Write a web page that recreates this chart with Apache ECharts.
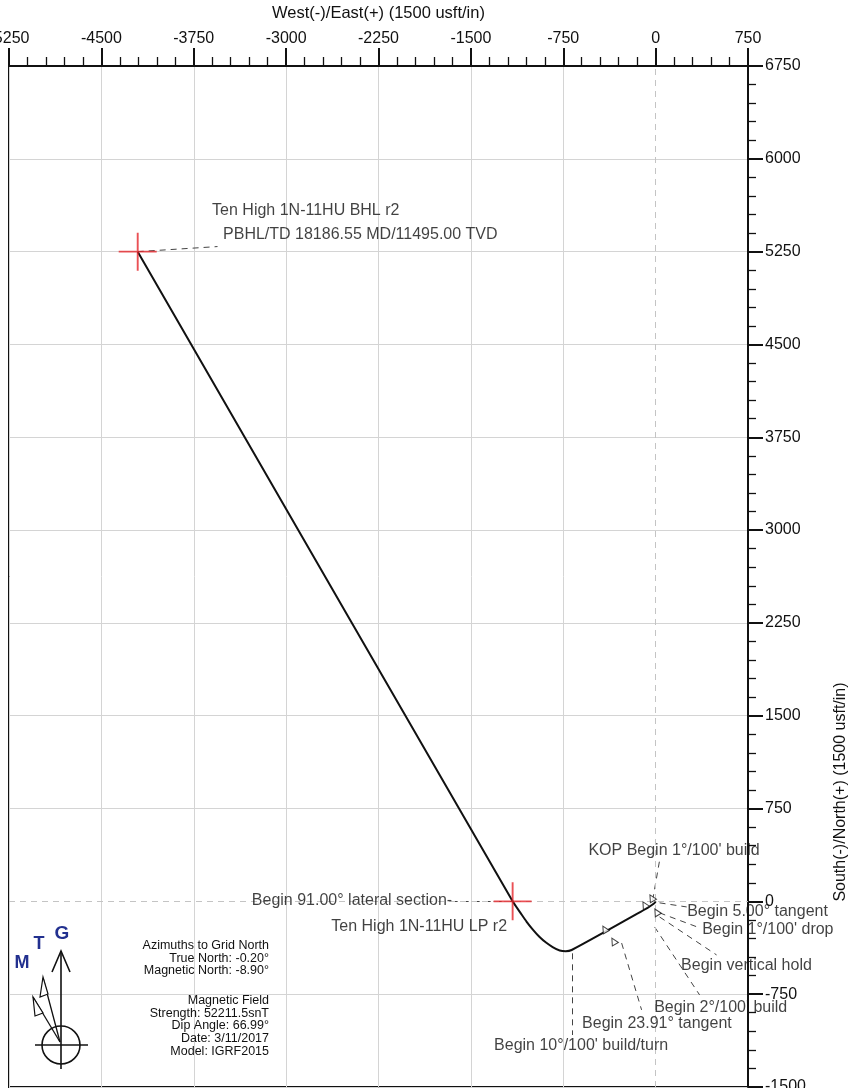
<!DOCTYPE html>
<html><head><meta charset="utf-8">
<script src="https://cdn.jsdelivr.net/npm/echarts@6.0.0/dist/echarts.min.js"></script>
<style>html,body{margin:0;padding:0;background:#fff}#c{width:849px;height:1088px}</style>
</head><body><div id="c"></div>
<script>
// ---- axes ----
const xMin = -5250, xMax = 750, xStep = 750;
const yMin = -1500, yMax = 6750, yStep = 750;
const xTitle = 'West(-)/East(+) (1500 usft/in)';
const yTitle = 'South(-)/North(+) (1500 usft/in)';

// ---- well path (plan view, usft) ----
const pathEast  = [0, -6, -20, -65, -682, -730, -779, -836, -890, -942, -995, -1047, -1100, -1161, -4205];
const pathNorth = [0, -10, -22, -52, -393, -403, -397, -369, -333, -288, -230, -165, -89, 0, 5250];

// ---- targets ----
const targetNames = ['Ten High 1N-11HU LP r2', 'Ten High 1N-11HU BHL r2'];
const targetEast  = [-1161, -4205];
const targetNorth = [0, 5250];

// ---- survey point glyphs ----
const markerEast  = [-414, -341, -89, -32, 8];
const markerNorth = [-225, -322, -28, 28, -86];

// ---- annotations ----
const annText = [
  'Ten High 1N-11HU BHL r2',
  'PBHL/TD 18186.55 MD/11495.00 TVD',
  'Begin 91.00\u00b0 lateral section-',
  'Ten High 1N-11HU LP r2',
  'KOP Begin 1\u00b0/100\' build',
  'Begin 5.00\u00b0 tangent',
  'Begin 1\u00b0/100\' drop',
  'Begin vertical hold',
  'Begin 2\u00b0/100\' build',
  'Begin 23.91\u00b0 tangent',
  'Begin 10\u00b0/100\' build/turn'
];
const annLabelE = [-3597, -3508, -1648, -1202, 154, 260, 382, 211, -8, -593, -601];
const annLabelN = [5575, 5380, 0, -207, 407, -86, -231, -522, -861, -991, -1169];
const annAlign  = ['left', 'left', 'right', 'right', 'center', 'left', 'left', 'left', 'left', 'left', 'center'];
// leader lines
const leadFromE = [-4205, -1161, -24, 32, 32, 32, -8, -276, -674];
const leadFromN = [5250, 0, 10, -12, -93, -126, -207, -337, -420];
const leadToE   = [-3557, -1632, 32, 252, 357, 495, 357, -114, -674];
const leadToN   = [5291, 0, 330, -45, -214, -433, -756, -877, -1080];

// ---- info block ----
const infoLines1 = ['Azimuths to Grid North', 'True North: -0.20\u00b0', 'Magnetic North: -8.90\u00b0'];
const infoLines2 = ['Magnetic Field', 'Strength: 52211.5snT', 'Dip Angle: 66.99\u00b0', 'Date: 3/11/2017', 'Model: IGRF2015'];

const FONT = '"Liberation Sans", Arial, Helvetica, sans-serif';
const GRID = '#d4d4d4';
const TXT = '#111';

function splitColors(min, max, step) {
  const arr = [];
  for (let v = min; v <= max; v += step) arr.push(v === 0 ? 'rgba(0,0,0,0)' : GRID);
  return arr;
}

const pathData = pathEast.map((e, i) => [e, pathNorth[i]]);
const targetData = targetEast.map((e, i) => ({ name: targetNames[i], value: [e, targetNorth[i]] }));
const markerData = markerEast.map((e, i) => [e, markerNorth[i]]);
const labelData = annText.map((t, i) => ({
  name: t, value: [annLabelE[i], annLabelN[i]],
  label: { align: annAlign[i] }
}));
const leaderData = leadFromE.map((e, i) => ({ coords: [[e, leadFromN[i]], [leadToE[i], leadToN[i]]] }));

const axisCommon = {
  type: 'value',
  axisLine: { show: true, onZero: false, lineStyle: { color: '#111', width: 2 } },
  axisTick: { show: true, inside: false, lineStyle: { color: '#111', width: 2 } },
  minorTick: { show: true, splitNumber: 5, lineStyle: { color: '#111', width: 1.3 } },
  axisLabel: { fontSize: 16, color: TXT, fontFamily: FONT, showMinLabel: true, showMaxLabel: true, formatter: v => String(v) },
  splitLine: { show: true }
};

const chart = echarts.init(document.getElementById('c'), null, { renderer: 'canvas' });
chart.setOption({
  animation: false,
  backgroundColor: '#fff',
  textStyle: { fontFamily: FONT },
  grid: { left: 9, right: 101, top: 66, bottom: 1, containLabel: false, outerBoundsMode: 'none',
          show: true, borderColor: '#111', borderWidth: 2, backgroundColor: '#fff' },
  xAxis: Object.assign({}, axisCommon, {
    position: 'top', min: xMin, max: xMax, interval: xStep,
    name: xTitle, nameLocation: 'middle', nameGap: 44,
    nameTextStyle: { fontSize: 16.5, color: TXT, fontFamily: FONT },
    axisTick: Object.assign({}, axisCommon.axisTick, { length: 18 }),
    minorTick: Object.assign({}, axisCommon.minorTick, { length: 9 }),
    axisLabel: Object.assign({}, axisCommon.axisLabel, { margin: 19 }),
    splitLine: { show: true, lineStyle: { color: splitColors(xMin, xMax, xStep), width: 1 } }
  }),
  yAxis: Object.assign({}, axisCommon, {
    position: 'right', min: yMin, max: yMax, interval: yStep,
    axisTick: Object.assign({}, axisCommon.axisTick, { length: 15 }),
    minorTick: Object.assign({}, axisCommon.minorTick, { length: 8 }),
    axisLabel: Object.assign({}, axisCommon.axisLabel, { margin: 17 }),
    splitLine: { show: true, lineStyle: { color: splitColors(yMin, yMax, yStep), width: 1 } }
  }),
  series: [
    {
      type: 'line', name: 'zero', data: [], silent: true,
      markLine: {
        silent: true, symbol: 'none', label: { show: false },
        lineStyle: { color: '#c4c4c4', type: [6, 5], width: 1 },
        data: [{ xAxis: 0 }, { yAxis: 0 }]
      }
    },
    {
      type: 'lines', coordinateSystem: 'cartesian2d', silent: true, z: 3,
      lineStyle: { color: '#444', width: 1, type: [6, 5], opacity: 1 },
      data: leaderData
    },
    {
      type: 'line', name: 'Wellpath', data: pathData, smooth: 0.3,
      showSymbol: false, symbol: 'none', z: 4,
      lineStyle: { color: '#111', width: 2 }
    },
    {
      type: 'scatter', name: 'Surveys', data: markerData, z: 5,
      symbol: 'triangle', symbolSize: 7, symbolRotate: 30,
      itemStyle: { color: '#fff', borderColor: '#111', borderWidth: 1 }
    },
    {
      type: 'scatter', name: 'Targets', data: targetData, z: 6,
      symbol: 'path://M19,0h2v40h-2zM0,19h40v2h-40z', symbolSize: 38,
      itemStyle: { color: '#e5262b' }
    },
    {
      type: 'scatter', name: 'Labels', data: labelData, z: 7, silent: true,
      symbolSize: 1, itemStyle: { color: 'rgba(255,255,255,0)' },
      label: {
        show: true, position: [0, 0], verticalAlign: 'middle',
        formatter: p => p.name, fontSize: 16, color: TXT, fontFamily: FONT
      }
    }
  ],
  graphic: [
    { type: 'text', x: 841, y: 792, rotation: Math.PI / 2, z: 10,
      style: { text: yTitle, fontSize: 16, fontFamily: FONT, fill: TXT, align: 'center', verticalAlign: 'middle' } },
    { type: 'text', x: 269, y: 939, z: 10,
      style: { text: infoLines1.join('\n'), fontSize: 12.5, lineHeight: 12.8, fontFamily: FONT, fill: TXT, align: 'right', verticalAlign: 'top' } },
    { type: 'text', x: 269, y: 994, z: 10,
      style: { text: infoLines2.join('\n'), fontSize: 12.5, lineHeight: 12.8, fontFamily: FONT, fill: TXT, align: 'right', verticalAlign: 'top' } },
    // compass
    { type: 'line', z: 10, shape: { x1: 61, y1: 951, x2: 61, y2: 1069 }, style: { stroke: '#111', lineWidth: 1.6 } },
    { type: 'polyline', z: 10, shape: { points: [[52, 972], [61, 951], [70, 972]] }, style: { stroke: '#111', lineWidth: 1.6, fill: null } },
    { type: 'circle', z: 10, shape: { cx: 61, cy: 1045, r: 19 }, style: { stroke: '#111', lineWidth: 1.6, fill: null } },
    { type: 'line', z: 10, shape: { x1: 35, y1: 1045, x2: 88, y2: 1045 }, style: { stroke: '#111', lineWidth: 1.6 } },
    { type: 'line', z: 10, shape: { x1: 60, y1: 1042, x2: 43, y2: 978 }, style: { stroke: '#111', lineWidth: 1.3 } },
    { type: 'polygon', z: 10, shape: { points: [[43, 977], [40, 997], [48, 994]] }, style: { stroke: '#111', lineWidth: 1.2, fill: '#fff' } },
    { type: 'line', z: 10, shape: { x1: 60, y1: 1042, x2: 33, y2: 997 }, style: { stroke: '#111', lineWidth: 1.3 } },
    { type: 'polygon', z: 10, shape: { points: [[33, 997], [35, 1016], [43, 1013]] }, style: { stroke: '#111', lineWidth: 1.2, fill: '#fff' } },
    { type: 'text', x: 62, y: 934, z: 10, style: { text: 'G', fontSize: 19, fontWeight: 'bold', fontFamily: FONT, fill: '#22308f', align: 'center', verticalAlign: 'middle' } },
    { type: 'text', x: 39, y: 944, z: 10, style: { text: 'T', fontSize: 18, fontWeight: 'bold', fontFamily: FONT, fill: '#22308f', align: 'center', verticalAlign: 'middle' } },
    { type: 'text', x: 22, y: 963, z: 10, style: { text: 'M', fontSize: 18, fontWeight: 'bold', fontFamily: FONT, fill: '#22308f', align: 'center', verticalAlign: 'middle' } }
  ]
});
</script></body></html>
